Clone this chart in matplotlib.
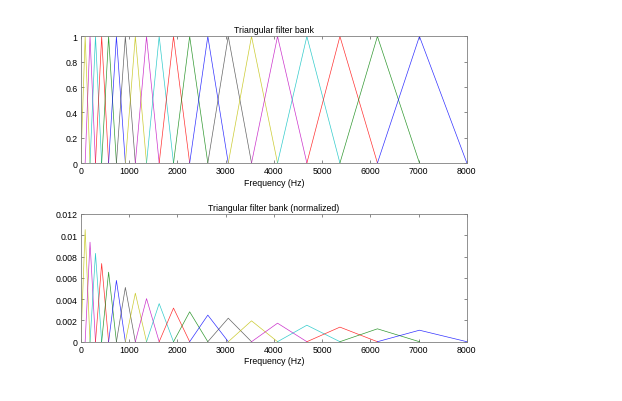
import matplotlib
matplotlib.use("Agg")
import matplotlib.pyplot as plt

plt.rcParams['font.family'] = ['Liberation Sans', 'DejaVu Sans']

# Filter edge frequencies (Hz), ascending: filter j spans edges[j]..edges[j+2], peak at edges[j+1]
edges = [0, 89, 190, 303, 431, 575, 737, 922, 1129, 1361, 1623, 1920,
         2255, 2631, 3055, 3537, 4076, 4684, 5369, 6146, 7017, 8000]
# Peak heights of the normalized (unit-area) filters
norm_peaks = [0.01053, 0.00935, 0.00830, 0.00735, 0.00654, 0.00576, 0.00510,
              0.00456, 0.00405, 0.00358, 0.00316, 0.00281, 0.00250, 0.00221,
              0.00196, 0.00174, 0.00155, 0.00137, 0.00121, 0.00108]

xticks = [0, 1000, 2000, 3000, 4000, 5000, 6000, 7000, 8000]
yticks_top = [0, 0.2, 0.4, 0.6, 0.8, 1]
ytick_labels_top = ['0', '0.2', '0.4', '0.6', '0.8', '1']
yticks_bot = [0, 0.002, 0.004, 0.006, 0.008, 0.01, 0.012]
ytick_labels_bot = ['0', '0.002', '0.004', '0.006', '0.008', '0.01', '0.012']

colors = [(0, 0, 1), (0, 0.5, 0), (1, 0, 0), (0, 0.75, 0.75),
          (0.75, 0, 0.75), (0.75, 0.75, 0), (0.25, 0.25, 0.25)]

n = len(edges) - 2
fig = plt.figure(figsize=(6.22, 4.02), dpi=100)
ax1 = fig.add_axes([0.130, 0.592, 0.6206, 0.315])
ax2 = fig.add_axes([0.130, 0.1475, 0.6206, 0.3177])

for j in range(n):
    c = colors[(n - 1 - j) % 7]
    xs = [edges[j], edges[j + 1], edges[j + 2]]
    ax1.plot(xs, [0, 1, 0], color=c, lw=0.5, alpha=0.8)
    ax2.plot(xs, [0, norm_peaks[j], 0], color=c, lw=0.5, alpha=0.8)

fs = 6.3
for ax, yt, ytl, yl, title in [
        (ax1, yticks_top, ytick_labels_top, (0, 1), 'Triangular filter bank'),
        (ax2, yticks_bot, ytick_labels_bot, (0, 0.012), 'Triangular filter bank (normalized)')]:
    ax.set_xlim(0, 8000)
    ax.set_ylim(*yl)
    ax.set_xticks(xticks)
    ax.set_xticklabels([str(t) for t in xticks])
    ax.set_yticks(yt)
    ax.set_yticklabels(ytl)
    ax.tick_params(direction='in', top=True, right=True, length=2.5, width=0.5,
                   labelsize=fs, color='0.35', pad=2.5)
    for s in ax.spines.values():
        s.set_linewidth(0.6)
        s.set_color('0.5')
    ax.set_xlabel('Frequency (Hz)', fontsize=fs, labelpad=1.5)
    ax.set_title(title, fontsize=fs, pad=3)

fig.savefig('out.png', dpi=100)
